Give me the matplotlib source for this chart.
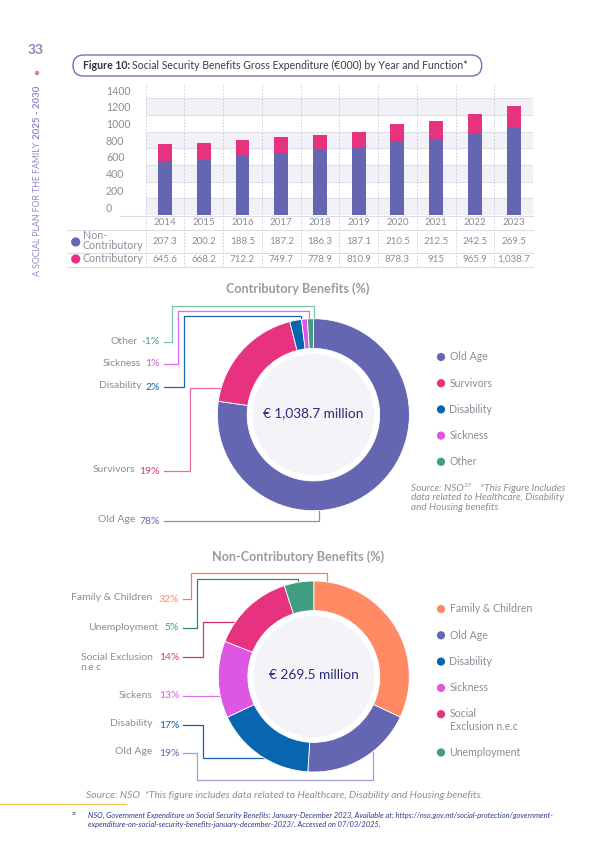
import numpy as np
import matplotlib.pyplot as plt
from matplotlib.patches import FancyBboxPatch, Circle

plt.rcParams['font.family'] = ['Lato', 'DejaVu Sans']

W, H = 595, 842

# Bar chart / table data (€000)
years = ['2014', '2015', '2016', '2017', '2018', '2019', '2020', '2021', '2022', '2023']
non_contrib = [207.3, 200.2, 188.5, 187.2, 186.3, 187.1, 210.5, 212.5, 242.5, 269.5]
contrib = [645.6, 668.2, 712.2, 749.7, 778.9, 810.9, 878.3, 915.0, 965.9, 1038.7]
non_contrib_txt = ['207.3', '200.2', '188.5', '187.2', '186.3', '187.1', '210.5', '212.5', '242.5', '269.5']
contrib_txt = ['645.6', '668.2', '712.2', '749.7', '778.9', '810.9', '878.3', '915', '965.9', '1,038.7']
yticks = [0, 200, 400, 600, 800, 1000, 1200, 1400]

# Contributory donut
c_labels = ['Old Age', 'Survivors', 'Disability', 'Sickness', 'Other']
c_share = [78, 19, 2, 1, 1]
c_pct = ['78%', '19%', '2%', '1%', '-1%']
c_total = '€ 1,038.7 million'

# Non-contributory donut
n_labels = ['Family & Children', 'Old Age', 'Disability', 'Sickens', 'Social Exclusion\nn.e.c', 'Unemployment']
n_legend = ['Family & Children', 'Old Age', 'Disability', 'Sickness', 'Social\nExclusion n.e.c', 'Unemployment']
n_share = [32, 19, 17, 13, 14, 5]
n_pct = ['32%', '19%', '17%', '13%', '14%', '5%']
n_total = '€ 269.5 million'

PURPLE = '#6466b1'
PINK = '#e6327f'
BLUE = '#0866ae'
MAGENTA = '#dd57e2'
GREEN = '#409d82'
ORANGE = '#ff8a63'
GRAY = '#8c8c99'
NAVY = '#2b2a7c'
c_colors = [PURPLE, PINK, BLUE, MAGENTA, GREEN]
n_colors = [ORANGE, PURPLE, BLUE, MAGENTA, PINK, GREEN]
c_line_colors = ['#8a8cc6', '#ee6aa0', '#1b62b0', '#e266e6', '#7cc4a8']
n_line_colors = ['#ff7a50', '#9c9ed4', '#1a5aa8', '#e070e8', '#d8306f', '#2c8a6a']


def rect(x0, y0, x1, y1):
    return [x0 / W, 1 - y1 / H, (x1 - x0) / W, (y1 - y0) / H]


fig = plt.figure(figsize=(W / 100, H / 100), dpi=100)

# ---- bar chart ----
bx0, bx1, by0, by1 = 145.7, 533.0, 98.3, 215.0
ax = fig.add_axes(rect(bx0, by0, bx1, by1))
ax.set_xlim(-0.5, len(years) - 0.5)
ax.set_ylim(0, 1400)
ax.set_axis_off()
x = np.arange(len(years))
for lo in [0, 400, 800, 1200]:
    ax.axhspan(lo, lo + 200, color='#f1f1f7', zorder=0, lw=0)
for t in yticks[1:]:
    ax.axhline(t, color='#dfdfe8', lw=0.8, zorder=1)
ax.bar(x, contrib, width=0.36, color=PURPLE, zorder=3)
ax.bar(x, non_contrib, bottom=contrib, width=0.36, color=PINK, zorder=3)

ph = by1 - by0


def fy(p):
    return (by1 - p) / ph


for k in range(len(years)):
    ax.axvline(k - 0.5, ymin=fy(267), ymax=fy(83), color='#c8c8d2', lw=0.6,
               ls=(0, (2, 2)), clip_on=False, zorder=2)

for t in yticks:
    ax.annotate(str(t), xy=(0, t), xycoords=('axes fraction', 'data'),
                xytext=(-39.7, 7), textcoords='offset pixels', ha='left', va='center',
                fontsize=7.6, color=GRAY, annotation_clip=False)

xt = ax.get_xaxis_transform()
for i, yr in enumerate(years):
    ax.text(i, fy(222.5), yr, transform=xt, ha='center', va='center', fontsize=7,
            color=GRAY, clip_on=False)
    ax.text(i, fy(241.5), non_contrib_txt[i], transform=xt, ha='center', va='center',
            fontsize=7, color=GRAY, clip_on=False)
    ax.text(i, fy(259), contrib_txt[i], transform=xt, ha='center', va='center',
            fontsize=7, color=GRAY, clip_on=False)

# ---- overlay in pixel coordinates ----
ov = fig.add_axes([0, 0, 1, 1])
ov.set_xlim(0, W)
ov.set_ylim(H, 0)
ov.set_axis_off()
ov.patch.set_alpha(0)

# table rules
ov.plot([120, bx1], [215.5, 215.5], color='#dcdce4', lw=0.8)
for yy in [229.5, 252.5, 266.5]:
    ov.plot([67, bx1], [yy, yy], color='#dcdce4', lw=0.8)
ov.add_patch(Circle((75.7, 242), 3.9, color=PURPLE))
ov.add_patch(Circle((75.7, 259), 3.9, color=PINK))
ov.text(82.5, 240.5, 'Non-\nContributory', ha='left', va='center', fontsize=7.7,
        color=GRAY, linespacing=0.9)
ov.text(82.5, 258.5, 'Contributory', ha='left', va='center', fontsize=7.7, color=GRAY)

# page furniture
ov.text(36, 50, '33', ha='center', va='center', fontsize=10, fontweight='bold', color='#8585c0')
ov.add_patch(Circle((37, 73), 1.5, color='#e07bb0'))
bold_part = ov.text(37.5, 86, '2025 - 2030', rotation=90, ha='center', va='top',
                    fontsize=7.0, fontweight='bold', color='#8c8cc8')
fig.canvas.draw()
r = fig.canvas.get_renderer()
bb = bold_part.get_window_extent(r)
ybot = H - bb.y0
ov.text(37.5, ybot + 2, 'A SOCIAL PLAN FOR THE FAMILY', rotation=90, ha='center', va='top',
        fontsize=6.3, color='#8c8cc8')

# title box
ov.add_patch(FancyBboxPatch((73, 55), 408.7, 21, boxstyle='round,pad=0,rounding_size=10.5',
                            fill=False, ec='#7070b8', lw=1.0))
t1 = ov.text(82.7, 65.8, 'Figure 10:', ha='left', va='center', fontsize=7.6,
             fontweight='bold', color='#333340')
fig.canvas.draw()
e1 = t1.get_window_extent(r)
ov.text(e1.x1 + 2, 65.8, 'Social Security Benefits Gross Expenditure (€000) by Year and Function*',
        ha='left', va='center', fontsize=7.6, color='#3c3c48')


# ---- donuts ----
def donut(cx, cy, rad, shares, colors, total):
    a = fig.add_axes(rect(cx - rad, cy - rad, cx + rad, cy + rad))
    a.pie(shares, colors=colors, startangle=90, counterclock=False, radius=1,
          wedgeprops=dict(width=0.31, edgecolor='white', linewidth=0.6))
    a.add_patch(Circle((0, 0), 0.625, color='#f3f3f8', zorder=5))
    a.text(0, 0.02, total, ha='center', va='center', fontsize=9.8, color=NAVY, zorder=6)
    a.set_xlim(-1, 1)
    a.set_ylim(-1, 1)
    a.set_aspect('equal')
    a.set_axis_off()
    return a


donut(313.4, 414.7, 96, c_share, c_colors, c_total)
donut(313.8, 676.5, 95.5, n_share, n_colors, n_total)

ov.text(297.5, 288.5, 'Contributory Benefits (%)', ha='center', va='center', fontsize=9.1,
        fontweight='bold', color='#9a9aa2')
ov.text(298, 557, 'Non-Contributory Benefits (%)', ha='center', va='center', fontsize=9.1,
        fontweight='bold', color='#9a9aa2')


def side_labels(names, pcts, colors, ys, xr, gap):
    fig.canvas.draw()
    for nm, pc, col, yy in zip(names, pcts, colors, ys):
        tp = ov.text(xr, yy, pc, ha='right', va='center', fontsize=7.5, color=col)
        ext = tp.get_window_extent(r)
        nl = nm.count('\n')
        ov.text(ext.x0 - gap, yy - 1 + nl * 6.5, nm, ha='right', va='center', fontsize=7.5,
                color=GRAY, multialignment='left', linespacing=1.25)


c_label_y = [521, 471, 387, 364, 342]
side_labels(c_labels, c_pct, c_colors, c_label_y, 160, 4.5)
n_label_y = [599, 753, 725, 696, 657, 628]
side_labels(n_labels, n_pct, n_colors, n_label_y, 179.3, 6.5)

# leader lines (pixel coordinates)
c_paths = [
    [(164, 521), (319, 521), (319, 510.5)],
    [(164, 471), (190, 471), (190, 388), (221, 388)],
    [(164, 387), (183.5, 387), (183.5, 316), (301, 316), (301, 319.5)],
    [(164, 364), (177.5, 364), (177.5, 311), (309, 311), (309, 318.8)],
    [(164, 342), (171.5, 342), (171.5, 305.5), (314, 305.5), (314, 318.7)],
]
for pth, col in zip(c_paths, c_line_colors):
    px, py = zip(*pth)
    ov.plot(px, py, color=col, lw=0.9)

n_paths = [
    [(183, 599), (191, 599), (191, 572.5), (326.7, 572.5), (326.7, 581.9)],
    [(183, 753), (197, 753), (197, 780), (373.3, 780), (373.3, 751.5)],
    [(183, 725), (203, 725), (203, 758.3), (264.5, 758.3)],
    [(183, 696), (220.3, 696)],
    [(183, 657), (203, 657), (203, 621.5), (236, 621.5)],
    [(183, 628), (197, 628), (197, 579.3), (298.3, 579.3), (298.3, 582.3)],
]
for pth, col in zip(n_paths, n_line_colors):
    px, py = zip(*pth)
    ov.plot(px, py, color=col, lw=0.9)


# legends
def legend(names, colors, y0, step):
    yy = y0
    for nm, col in zip(names, colors):
        nl = nm.count('\n')
        ov.add_patch(Circle((441, yy), 3.4, color=col))
        ov.text(449.5, yy + nl * 6, nm, ha='left', va='center', fontsize=7.6, color=GRAY,
                linespacing=1.2)
        yy += step + nl * 12


legend(c_labels, c_colors, 357, 26.2)
legend(n_legend, n_colors, 609, 26.3)

# notes
ov.text(410.7, 497.5, 'Source: NSO³⁷    *This Figure Includes\ndata related to Healthcare, Disability\nand Housing benefits',
        ha='left', va='center', fontsize=7.2, style='italic', color='#8e8e98', linespacing=1.05)
ov.text(284.5, 795, 'Source: NSO  *This figure includes data related to Healthcare, Disability and Housing benefits.',
        ha='center', va='center', fontsize=7.4, style='italic', color='#8e8e98')
ov.plot([0, 126], [804, 804], color='#f5c65a', lw=1.0)
ov.text(72, 815.5, '³⁷', ha='left', va='center', fontsize=5.4, color='#2a3a8a')
ov.text(88, 820, 'NSO, Government Expenditure on Social Security Benefits: January-December 2023, Available at: https://nso.gov.mt/social-protection/government-\nexpenditure-on-social-security-benefits-january-december-2023/. Accessed on 07/03/2025.',
        ha='left', va='center', fontsize=5.4, style='italic', color='#2a3a8a', linespacing=1.2)

fig.savefig('out.png', dpi=100)
